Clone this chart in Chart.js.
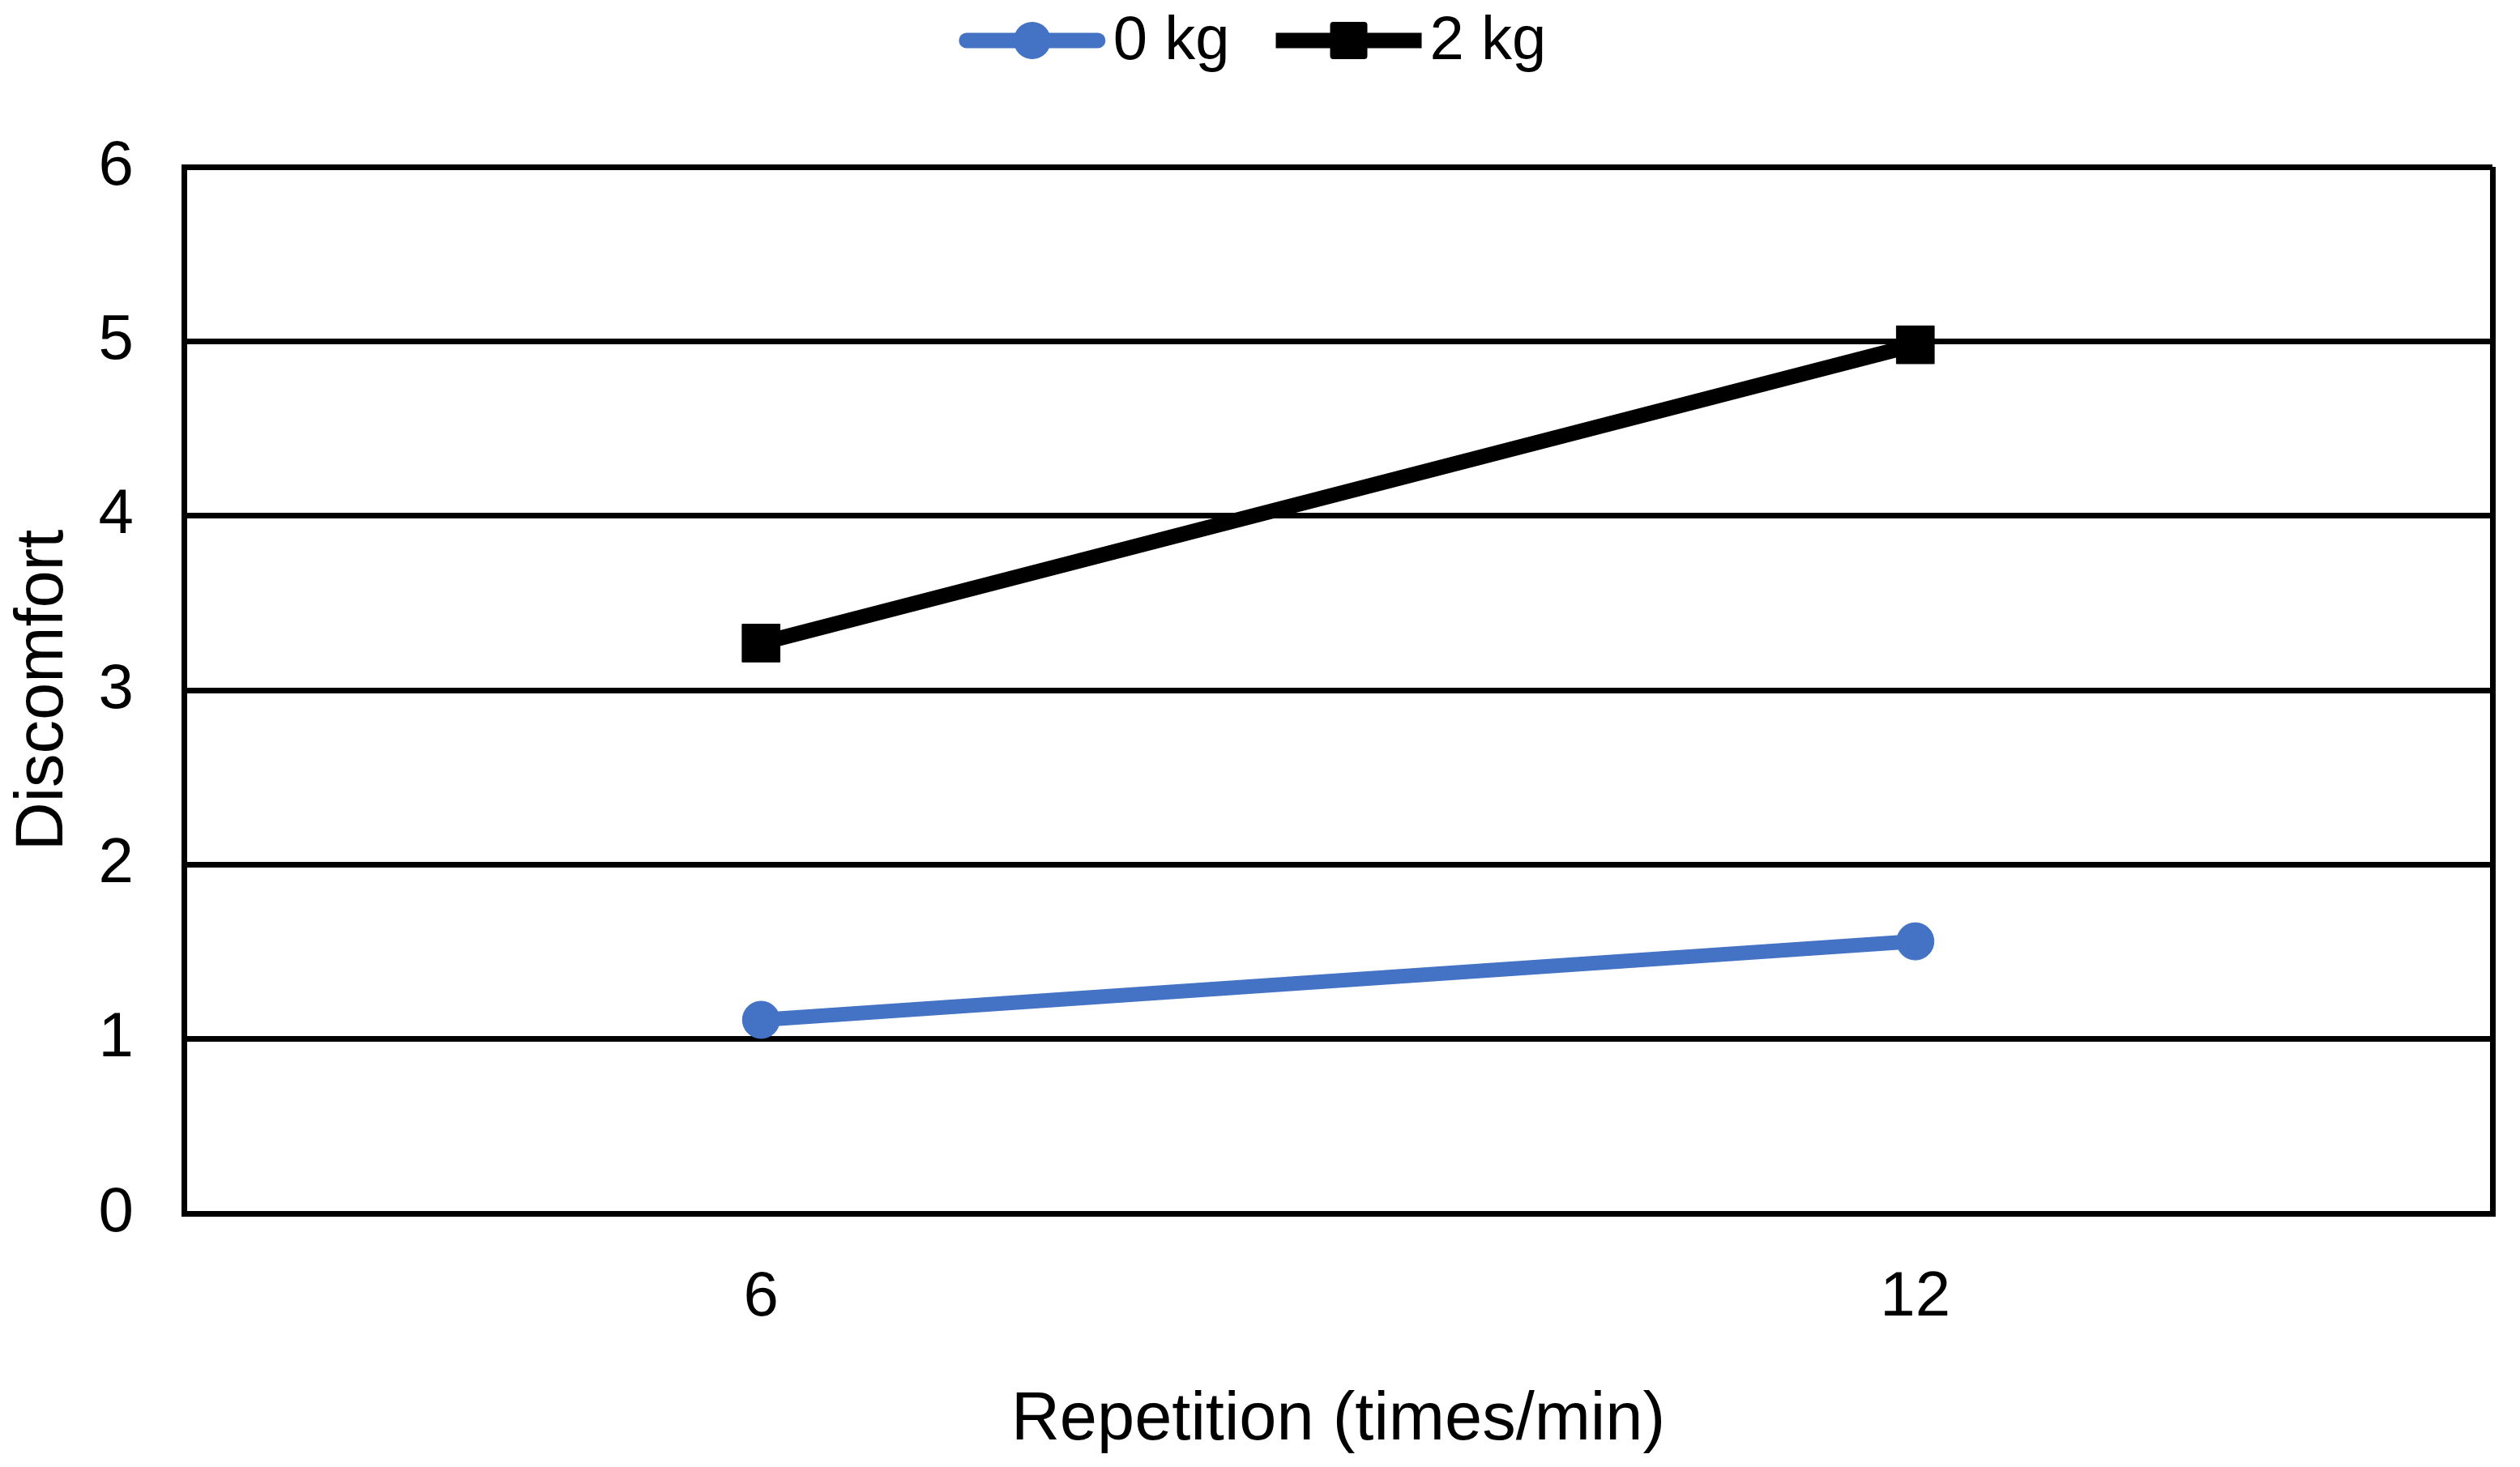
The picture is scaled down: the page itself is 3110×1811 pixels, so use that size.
<!DOCTYPE html>
<html>
<head>
<meta charset="utf-8">
<script src="https://cdn.jsdelivr.net/npm/chart.js@4/dist/chart.umd.min.js"></script>
<style>
  html, body { margin: 0; padding: 0; background: #fff; }
  #wrap { width: 3110px; height: 1811px; position: relative; }
</style>
</head>
<body>
<div id="wrap"><canvas id="chart"></canvas></div>
<script>
const categories = ['6', '12'];
const load0kg    = [1.11, 1.56];
const load2kg    = [3.27, 4.98];
const seriesNames = ['0 kg', '2 kg'];

const FONT = '"Liberation Sans", Arial, sans-serif';
const BLUE = '#4472C4';

// legend drawn by hand: line with marker in the middle, like the original
const lineLegend = {
  id: 'lineLegend',
  afterDraw(chart) {
    const ctx   = chart.ctx;
    const y     = 50;
    const lineW = 180;
    const gap   = 10;
    const space = 57;
    ctx.save();
    ctx.font = `76px ${FONT}`;
    const items = chart.data.datasets.map(ds => ({ ds, tw: ctx.measureText(ds.label).width }));
    const total = items.reduce((s, it) => s + lineW + gap + it.tw, 0) + space * (items.length - 1);
    let x = chart.width / 2 - total / 2 - 9;
    items.forEach(({ ds, tw }) => {
      ctx.strokeStyle = ds.borderColor;
      ctx.fillStyle   = ds.borderColor;
      ctx.lineWidth   = 19;
      ctx.lineCap     = ds.pointStyle === 'circle' ? 'round' : 'butt';
      const x0 = x + (ctx.lineCap === 'round' ? 9 : 0);
      const x1 = x + lineW - (ctx.lineCap === 'round' ? 9 : 0);
      ctx.beginPath(); ctx.moveTo(x0, y); ctx.lineTo(x1, y); ctx.stroke();
      const cx = x + lineW / 2;
      ctx.beginPath();
      if (ds.pointStyle === 'circle') {
        ctx.arc(cx, y, 23, 0, Math.PI * 2);
      } else if (ctx.roundRect) {
        ctx.roundRect(cx - 23, y - 23, 46, 46, 4);
      } else {
        ctx.rect(cx - 23, y - 23, 46, 46);
      }
      ctx.fill();
      ctx.fillStyle    = '#000';
      ctx.textBaseline = 'middle';
      ctx.textAlign    = 'left';
      ctx.fillText(ds.label, x + lineW + gap, y + 2);
      x += lineW + gap + tw + space;
    });
    ctx.restore();
  },
};

new Chart(document.getElementById('chart'), {
  type: 'line',
  data: {
    labels: categories,
    datasets: [
      {
        label:            seriesNames[0],
        data:             load0kg,
        borderColor:      BLUE,
        backgroundColor:  BLUE,
        borderWidth:      18,
        pointStyle:       'circle',
        pointRadius:      23,
        pointBorderWidth: 1,
        tension:          0,
      },
      {
        label:            seriesNames[1],
        data:             load2kg,
        borderColor:      '#000',
        backgroundColor:  '#000',
        borderWidth:      19,
        pointStyle:       'rect',
        pointRadius:      33,
        pointBorderWidth: 1,
        tension:          0,
      },
    ],
  },
  options: {
    responsive:          true,
    maintainAspectRatio: false,
    animation:           false,
    layout: { padding: { top: 206, right: 27, bottom: 0, left: 0 } },
    plugins: {
      legend:  { display: false },
      tooltip: { enabled: false },
    },
    scales: {
      x: {
        offset: true,
        grid: {
          offset:    true,
          drawTicks: false,
          lineWidth: 7,
          color:     (c) => (c.index === 1 ? 'rgba(0,0,0,0)' : '#000'),
        },
        border: { display: true, color: '#000', width: 7 },
        ticks:  { color: '#000', padding: 58, maxRotation: 0, font: { family: FONT, size: 78 } },
        title: {
          display: true,
          text:    'Repetition (times/min)',
          color:   '#000',
          padding: { top: 0, bottom: 7 },
          font:    { family: FONT, size: 83 },
        },
        afterFit: (s) => { s.height = 313; },
      },
      y: {
        min: 0,
        max: 6,
        ticks:  { stepSize: 1, color: '#000', padding: 62, font: { family: FONT, size: 78 } },
        grid:   { color: '#000', lineWidth: 7, drawTicks: false },
        border: { display: true, color: '#000', width: 7 },
        title: {
          display: true,
          text:    'Discomfort',
          color:   '#000',
          padding: { top: 4, bottom: 0 },
          font:    { family: FONT, size: 83 },
        },
        afterFit: (s) => { s.width = 227; },
      },
    },
  },
  plugins: [lineLegend],
});
</script>
</body>
</html>
